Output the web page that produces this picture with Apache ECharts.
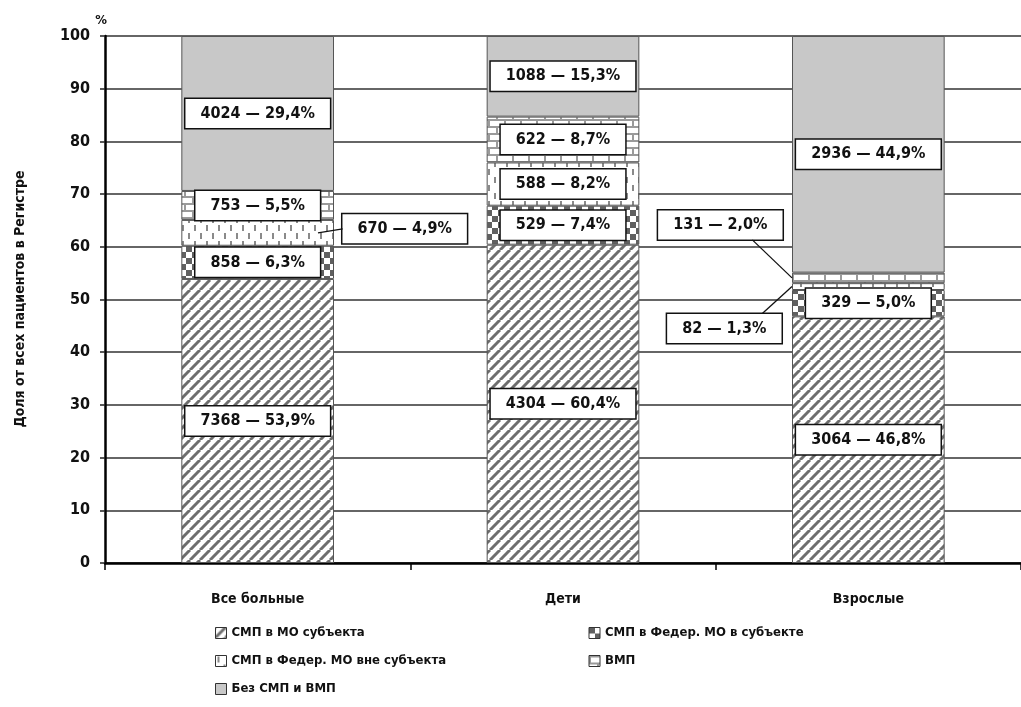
<!DOCTYPE html>
<html>
<head>
<meta charset="utf-8">
<script src="https://cdn.jsdelivr.net/npm/echarts@6/dist/echarts.min.js"></script>
<style>
html,body{margin:0;padding:0;background:#fff;}
#chart{width:1021px;height:707px;}
</style>
</head>
<body>
<div id="chart"></div>
<script>
// ---- DATA ----
const categories = ['Все больные', 'Дети', 'Взрослые'];
const seriesNames = ['СМП в МО субъекта', 'СМП в Федер. МО в субъекте', 'СМП в Федер. МО вне субъекта', 'ВМП', 'Без СМП и ВМП'];
const pctSmpMo      = [53.9, 60.4, 46.8];
const pctSmpFedIn   = [6.3, 7.4, 5.0];
const pctSmpFedOut  = [4.9, 8.2, 1.3];
const pctVmp        = [5.5, 8.7, 2.0];
const pctNone       = [29.4, 15.3, 44.9];
const cntSmpMo      = [7368, 4304, 3064];
const cntSmpFedIn   = [858, 529, 329];
const cntSmpFedOut  = [670, 588, 82];
const cntVmp        = [753, 622, 131];
const cntNone       = [4024, 1088, 2936];
const yMin = 0, yMax = 100, yInterval = 10;
const yAxisTitle = 'Доля от всех пациентов в Регистре';
const yUnit = '%';

// ---- PATTERNS ----
function tile(w, h, draw) {
  const c = document.createElement('canvas');
  c.width = w; c.height = h;
  const ctx = c.getContext('2d');
  ctx.fillStyle = '#fff'; ctx.fillRect(0, 0, w, h);
  draw(ctx);
  return { image: c, repeat: 'repeat' };
}
const patStripes = tile(10, 10, ctx => {
  ctx.strokeStyle = '#6e6e6e'; ctx.lineWidth = 3;
  for (const k of [-10, 0, 10]) { ctx.beginPath(); ctx.moveTo(k, 10); ctx.lineTo(k + 10, 0); ctx.stroke(); }
});
const patChecker = tile(12, 12, ctx => {
  ctx.fillStyle = '#606060';
  ctx.fillRect(0, 0, 6, 6); ctx.fillRect(6, 6, 6, 6);
});
const patDashes = tile(12, 16, ctx => {
  ctx.fillStyle = '#8a8a8a';
  ctx.fillRect(2, 1, 2, 6); ctx.fillRect(8, 9, 2, 6);
});
const patBrick = tile(16, 14, ctx => {
  ctx.fillStyle = '#9a9a9a';
  ctx.fillRect(0, 0, 16, 2); ctx.fillRect(0, 7, 16, 2);
  ctx.fillRect(0, 0, 2, 7); ctx.fillRect(8, 7, 2, 7);
});
const colNone = '#c8c8c8';

const FONT = "'Liberation Sans Narrow', 'DejaVu Sans Condensed', 'Roboto Condensed', sans-serif";

function fmt(v) { return v.toFixed(1).replace('.', ',') + '%'; }

const pcts = [pctSmpMo, pctSmpFedIn, pctSmpFedOut, pctVmp, pctNone];
const cnts = [cntSmpMo, cntSmpFedIn, cntSmpFedOut, cntVmp, cntNone];
const fills = [patStripes, patChecker, patDashes, patBrick, colNone];

// labels moved outside the bar
const moved = [
  { s: 2, d: 0, dx: 147, dy: -4, from: 'right', to: 'left' },
  { s: 2, d: 2, dx: -144, dy: 42, from: 'left', to: 'top' },
  { s: 3, d: 2, dx: -148, dy: -53, from: 'left', to: 'bottom' }
];
function findMoved(s, d) { return moved.find(m => m.s === s && m.d === d); }

const series = seriesNames.map((name, si) => ({
  name: name,
  type: 'bar',
  stack: 'all',
  barWidth: '50%',
  itemStyle: { color: fills[si], borderColor: '#555', borderWidth: 1 },
  data: pcts[si],
  label: {
    show: true,
    position: 'inside',
    formatter: p => cnts[si][p.dataIndex] + ' — ' + fmt(p.value),
    fontFamily: FONT,
    fontWeight: 'bold',
    fontSize: 16,
    color: '#111',
    lineHeight: 18,
    backgroundColor: '#fff',
    borderColor: '#111',
    borderWidth: 1.5,
    padding: [6, 15, 5, 15]
  },
  labelLayout: function (params) {
    const m = findMoved(si, params.dataIndex);
    if (m) return { dx: m.dx, dy: m.dy };
    return {};
  }
}));

const chart = echarts.init(document.getElementById('chart'), null, { renderer: 'canvas' });
const baseGraphic = [{
  type: 'text',
  x: 20, y: 299,
  rotation: Math.PI / 2,
  style: { text: yAxisTitle, font: 'bold 14px ' + FONT, fill: '#111', textAlign: 'center', textVerticalAlign: 'middle' }
}];
chart.setOption({
  animation: false,
  backgroundColor: '#fff',
  textStyle: { fontFamily: FONT },
  grid: { left: 105, top: 36, right: -8, bottom: 144, containLabel: false },
  legend: {
    left: 215,
    top: 624,
    padding: 0,
    width: 770,
    orient: 'horizontal',
    icon: 'rect',
    itemWidth: 11,
    itemHeight: 11,
    itemGap: 10,
    selectedMode: false,
    itemStyle: { borderColor: '#333', borderWidth: 1 },
    textStyle: { fontFamily: FONT, fontWeight: 'bold', fontSize: 13, color: '#111', width: 347, lineHeight: 18 },
    data: seriesNames
  },
  xAxis: {
    type: 'category',
    data: categories,
    axisLine: { lineStyle: { color: '#000', width: 2.5 } },
    axisTick: { show: true, length: 7, lineStyle: { color: '#000', width: 1.5 } },
    axisLabel: { margin: 29, fontFamily: FONT, fontWeight: 'bold', fontSize: 14, color: '#111' },
    splitLine: { show: false }
  },
  yAxis: {
    type: 'value',
    min: yMin, max: yMax, interval: yInterval,
    name: yUnit,
    nameLocation: 'end',
    nameGap: 9,
    nameTextStyle: { fontFamily: FONT, fontWeight: 'bold', fontSize: 13, color: '#111', align: 'right', padding: [0, -2, 0, 0] },
    axisLine: { show: true, lineStyle: { color: '#000', width: 2.5 } },
    axisTick: { show: true, length: 5, lineStyle: { color: '#222', width: 1.5 } },
    axisLabel: { margin: 15, fontFamily: FONT, fontWeight: 'bold', fontSize: 16, color: '#111' },
    splitLine: { show: true, lineStyle: { color: '#333', width: 1.5 } }
  },
  graphic: baseGraphic,
  series: series
});

// leader lines for the labels placed outside their bars
(function () {
  const p0 = chart.convertToPixel({ gridIndex: 0 }, [0, 0]);
  const p1 = chart.convertToPixel({ gridIndex: 0 }, [1, 0]);
  const half = (p1[0] - p0[0]) * 0.25; // bar is 50% of band
  const lines = moved.map(m => {
    let base = 0;
    for (let k = 0; k < m.s; k++) base += pcts[k][m.d];
    const mid = base + pcts[m.s][m.d] / 2;
    const c = chart.convertToPixel({ gridIndex: 0 }, [m.d, mid]);
    const sx = m.from === 'right' ? c[0] + half - 16 : c[0] - half;
    const sy = c[1];
    const lx = c[0] + m.dx, ly = c[1] + m.dy;
    let ex, ey;
    if (m.to === 'left') { ex = lx - 62; ey = ly; }
    else if (m.to === 'top') { ex = lx + 38; ey = ly - 15; }
    else { ex = lx + 32; ey = ly + 15; }
    return {
      type: 'line', z: 100,
      shape: { x1: sx, y1: sy, x2: ex, y2: ey },
      style: { stroke: '#111', lineWidth: 1.3 }
    };
  });
  chart.setOption({ graphic: baseGraphic.concat(lines) });
})();
</script>
</body>
</html>
